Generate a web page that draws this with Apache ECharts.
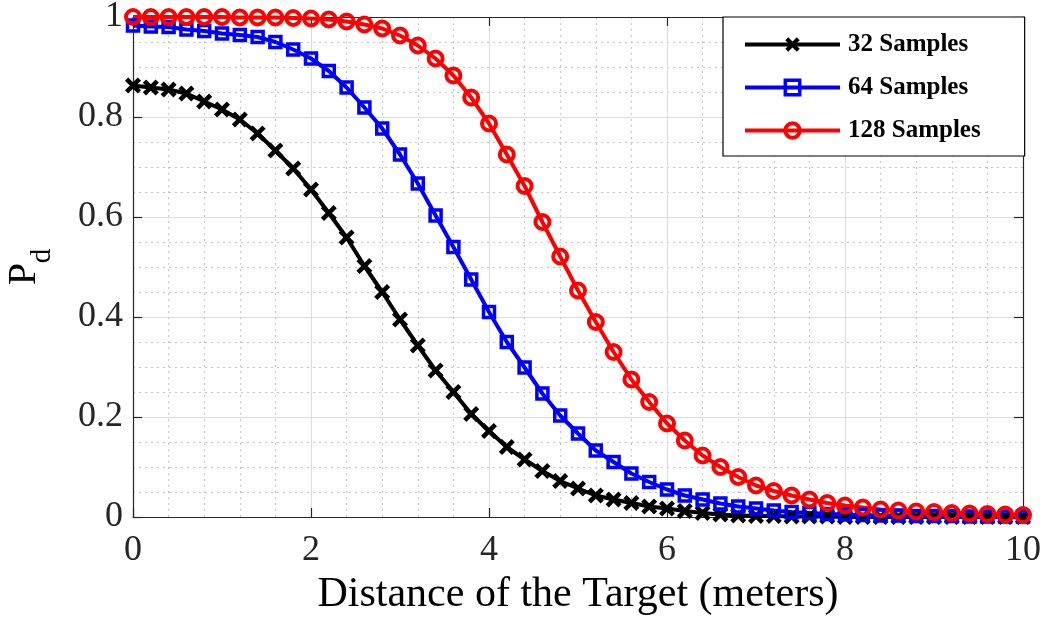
<!DOCTYPE html>
<html>
<head>
<meta charset="utf-8">
<script src="https://cdn.jsdelivr.net/npm/echarts@6/dist/echarts.min.js"></script>
<style>
  html, body { margin: 0; padding: 0; background: #ffffff; }
  #chart { width: 1047px; height: 624px; }
</style>
</head>
<body>
<div id="chart"></div>
<script>
// Target distance in meters (sampled every 0.2 m)
const distance = [
  0, 0.2, 0.4, 0.6, 0.8, 1, 1.2, 1.4, 1.6, 1.8,
  2, 2.2, 2.4, 2.6, 2.8, 3, 3.2, 3.4, 3.6, 3.8,
  4, 4.2, 4.4, 4.6, 4.8, 5, 5.2, 5.4, 5.6, 5.8,
  6, 6.2, 6.4, 6.6, 6.8, 7, 7.2, 7.4, 7.6, 7.8,
  8, 8.2, 8.4, 8.6, 8.8, 9, 9.2, 9.4, 9.6, 9.8, 10
];

// Probability of detection for each sample count
const pd32 = [
  0.863, 0.859, 0.855, 0.847, 0.831, 0.815, 0.795, 0.767, 0.733, 0.697,
  0.655, 0.608, 0.559, 0.502, 0.450, 0.395, 0.343, 0.293, 0.250, 0.206,
  0.172, 0.140, 0.115, 0.092, 0.072, 0.057, 0.043, 0.035, 0.028, 0.021,
  0.017, 0.012, 0.008, 0.005, 0.003, 0.002, 0.002, 0.001, 0.001, 0.001,
  0, 0, 0, 0, 0, 0, 0, 0, 0, 0, 0
];
const pd64 = [
  0.983, 0.981, 0.980, 0.975, 0.972, 0.967, 0.964, 0.960, 0.950, 0.935,
  0.917, 0.892, 0.859, 0.819, 0.777, 0.725, 0.667, 0.603, 0.540, 0.475,
  0.410, 0.350, 0.299, 0.247, 0.203, 0.167, 0.133, 0.110, 0.087, 0.070,
  0.055, 0.043, 0.035, 0.027, 0.021, 0.017, 0.013, 0.010, 0.008, 0.006,
  0.005, 0.004, 0.003, 0.003, 0.002, 0.002, 0.002, 0.001, 0.001, 0.001, 0.001
];
const pd128 = [
  1.000, 1.000, 1.000, 1.000, 1.000, 1.000, 0.999, 0.999, 0.999, 0.998,
  0.997, 0.995, 0.991, 0.985, 0.977, 0.963, 0.943, 0.917, 0.883, 0.839,
  0.787, 0.725, 0.662, 0.590, 0.521, 0.453, 0.390, 0.330, 0.275, 0.230,
  0.187, 0.153, 0.123, 0.100, 0.080, 0.063, 0.052, 0.043, 0.035, 0.028,
  0.023, 0.019, 0.015, 0.013, 0.011, 0.010, 0.008, 0.007, 0.006, 0.005, 0.004
];

const seriesNames = ['32 Samples', '64 Samples', '128 Samples'];

const SERIF = '"Liberation Serif", "Times New Roman", serif';
const AXIS_COLOR = '#262626';
const CROSS = 'path://M2,0 L5,3 L8,0 L10,2 L7,5 L10,8 L8,10 L5,7 L2,10 L0,8 L3,5 L0,2 Z';

function pairs(ys) {
  return distance.map((x, i) => [x, ys[i]]);
}

const axisLine = { show: true, onZero: false, lineStyle: { color: AXIS_COLOR, width: 1.2 } };
const innerTick = { show: true, inside: true, length: 9, lineStyle: { color: AXIS_COLOR, width: 1.2 } };
const majorGrid = { show: true, lineStyle: { color: '#dcdcdc', width: 1 } };
const minorGrid = { show: true, lineStyle: { color: '#c4c4c4', width: 1, type: [2, 4] } };

const chart = echarts.init(document.getElementById('chart'), null, { renderer: 'canvas' });

chart.setOption({
  animation: false,
  backgroundColor: '#ffffff',
  grid: { left: 133, right: 24, top: 17, bottom: 107, containLabel: false, outerBoundsMode: 'none' },
  legend: {
    data: seriesNames,
    orient: 'vertical',
    left: 723,
    top: 17,
    padding: [15, 44, 13, 20],
    itemGap: 18,
    itemWidth: 95,
    itemHeight: 18,
    backgroundColor: '#ffffff',
    borderColor: '#000000',
    borderWidth: 1.2,
    borderRadius: 0,
    lineStyle: { width: 4 },
    itemStyle: { borderWidth: 'inherit' },
    textStyle: { fontFamily: SERIF, fontWeight: 'bold', fontSize: 25, color: '#000000', padding: [0, 0, 0, 3] }
  },
  xAxis: [
    {
      type: 'value', min: 0, max: 10, interval: 2, position: 'bottom',
      axisLine: axisLine, axisTick: innerTick,
      axisLabel: { fontFamily: SERIF, fontSize: 36, color: AXIS_COLOR, margin: 16 },
      splitLine: majorGrid,
      minorTick: { show: false, splitNumber: 5 },
      minorSplitLine: minorGrid,
      name: 'Distance of the Target (meters)',
      nameLocation: 'middle',
      nameGap: 56,
      nameTextStyle: { fontFamily: SERIF, fontSize: 42, color: '#000000' }
    },
    {
      type: 'value', min: 0, max: 10, interval: 2, position: 'top',
      axisLine: axisLine, axisTick: innerTick,
      axisLabel: { show: false }, splitLine: { show: false }
    }
  ],
  yAxis: [
    {
      type: 'value', min: 0, max: 1, interval: 0.2, position: 'left',
      axisLine: axisLine, axisTick: innerTick,
      axisLabel: { fontFamily: SERIF, fontSize: 36, color: AXIS_COLOR, margin: 10 },
      splitLine: majorGrid,
      minorTick: { show: false, splitNumber: 4 },
      minorSplitLine: minorGrid,
      name: '{P|P}{d|d}',
      nameLocation: 'middle',
      nameRotate: 90,
      nameGap: 76,
      nameTextStyle: {
        color: '#000000',
        rich: {
          P: { fontFamily: SERIF, fontSize: 40, color: '#000000' },
          d: { fontFamily: SERIF, fontSize: 29, color: '#000000', padding: [36, 0, 0, 0] }
        }
      }
    },
    {
      type: 'value', min: 0, max: 1, interval: 0.2, position: 'right',
      axisLine: axisLine, axisTick: innerTick,
      axisLabel: { show: false }, splitLine: { show: false }
    }
  ],
  series: [
    {
      name: seriesNames[0], type: 'line', data: pairs(pd32), clip: false,
      symbol: CROSS, symbolSize: 16,
      itemStyle: { color: '#000000' },
      lineStyle: { color: '#000000', width: 4 }
    },
    {
      name: seriesNames[1], type: 'line', data: pairs(pd64), clip: false,
      symbol: 'rect', symbolSize: 11,
      itemStyle: { color: 'rgba(255,255,255,0)', borderColor: '#0000ff', borderWidth: 3.5 },
      lineStyle: { color: '#0000ff', width: 4 }
    },
    {
      name: seriesNames[2], type: 'line', data: pairs(pd128), clip: false,
      symbol: 'circle', symbolSize: 14,
      itemStyle: { color: 'rgba(255,255,255,0)', borderColor: '#ff0000', borderWidth: 4 },
      lineStyle: { color: '#ff0000', width: 4 }
    }
  ]
});
</script>
</body>
</html>
